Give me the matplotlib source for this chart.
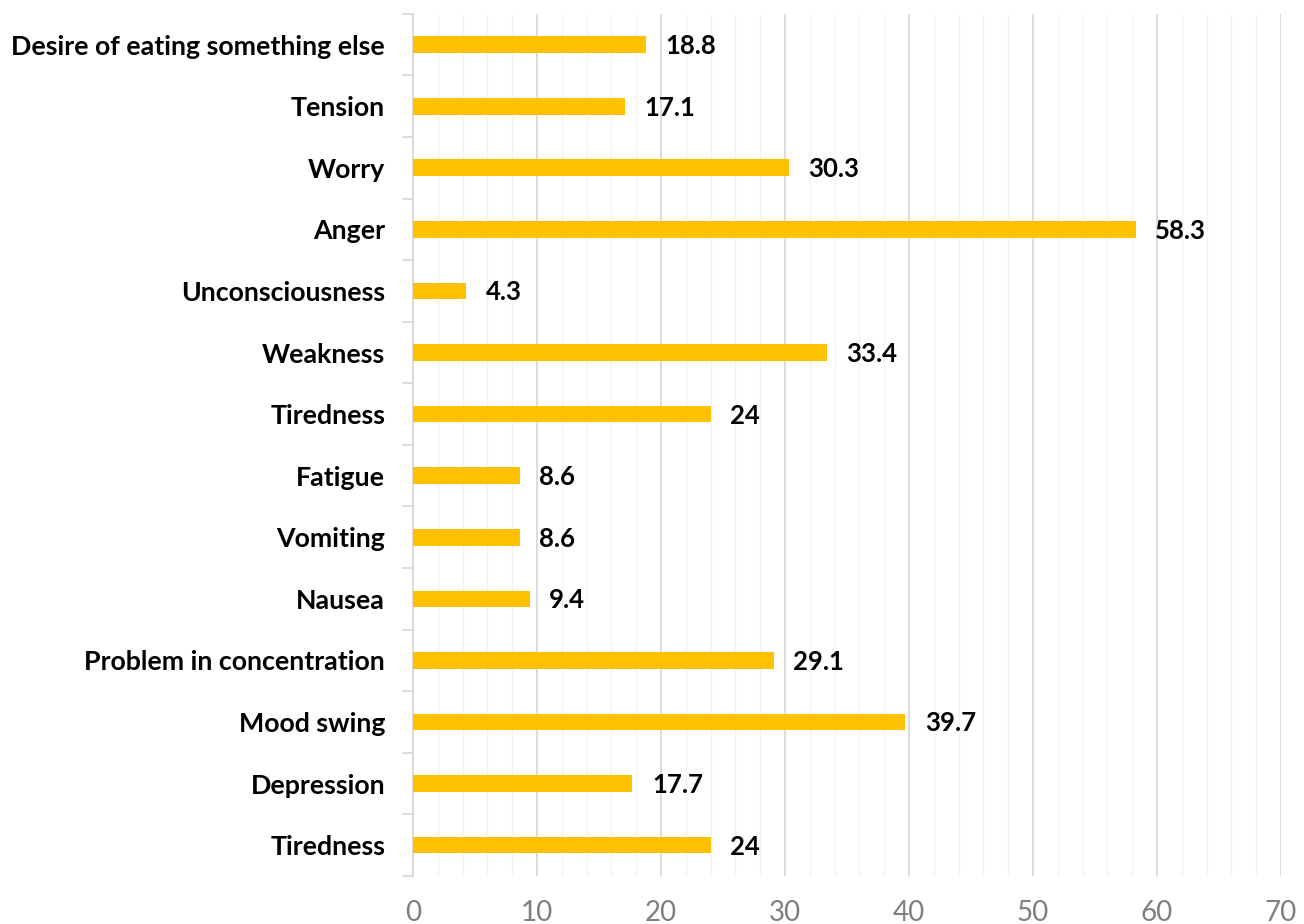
import numpy as np
import matplotlib.pyplot as plt
from matplotlib.ticker import MultipleLocator, FixedLocator

plt.rcParams['font.family'] = ['Lato', 'DejaVu Sans']

categories = ['Tiredness', 'Depression', 'Mood swing', 'Problem in concentration',
              'Nausea', 'Vomiting', 'Fatigue', 'Tiredness', 'Weakness',
              'Unconsciousness', 'Anger', 'Worry', 'Tension',
              'Desire of eating something else']
values = [24, 17.7, 39.7, 29.1, 9.4, 8.6, 8.6, 24, 33.4, 4.3, 58.3, 30.3, 17.1, 18.8]
value_labels = ['24', '17.7', '39.7', '29.1', '9.4', '8.6', '8.6', '24', '33.4',
                '4.3', '58.3', '30.3', '17.1', '18.8']

fig = plt.figure(figsize=(13.04, 9.24), dpi=100)
ax = fig.add_axes([0.3167, 0.052, 0.6656, 0.933])

y = np.arange(len(categories))
ax.barh(y, values, height=0.27, color='#FFC000', zorder=3)

for yi, v, lab in zip(y, values, value_labels):
    ax.annotate(lab, (v, yi), xytext=(14, -1), textcoords='offset points',
                va='center', ha='left', fontsize=18.5, fontweight='bold', color='black')

ax.set_xlim(0, 70)
ax.set_ylim(-0.5, len(categories) - 0.5)
ax.xaxis.set_major_locator(MultipleLocator(10))
ax.xaxis.set_minor_locator(MultipleLocator(2))
ax.grid(axis='x', which='major', color='#D9D9D9', linewidth=1.3, zorder=0)
ax.grid(axis='x', which='minor', color='#F2F2F2', linewidth=1.0, zorder=0)
ax.tick_params(axis='x', which='both', length=0, labelsize=20, labelcolor='#7F7F7F', pad=17)

ax.set_yticks(y)
ax.set_yticklabels(categories, fontsize=19.3, fontweight='bold')
ax.yaxis.set_minor_locator(FixedLocator(np.arange(-0.5, len(categories), 1.0)))
ax.tick_params(axis='y', which='major', length=0, pad=20)
ax.tick_params(axis='y', which='minor', length=8, color='#D9D9D9', width=1.3)

for s in ['top', 'right', 'bottom']:
    ax.spines[s].set_visible(False)
ax.spines['left'].set_color('#D9D9D9')
ax.spines['left'].set_linewidth(1.3)

fig.savefig('out.png', dpi=100)
